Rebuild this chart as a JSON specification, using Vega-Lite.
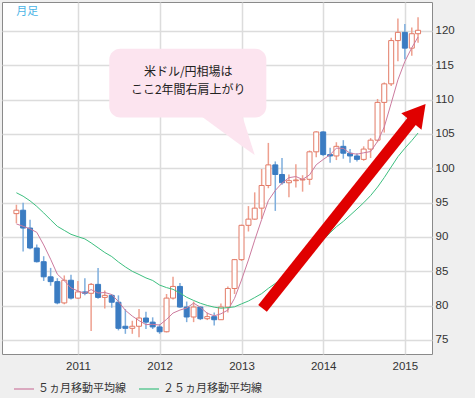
{
  "$schema": "https://vega.github.io/schema/vega-lite/v6.json",
  "width": 430,
  "height": 352,
  "autosize": {"type": "none"},
  "padding": {"left": 2, "top": 2, "right": 43, "bottom": 44},
  "background": "#efefef",
  "view": {"fill": "white", "stroke": "#8a8a8a", "strokeWidth": 1},
  "config": {
    "font": "Liberation Sans",
    "axisY": {"grid": true, "gridColor": "#dcdcdc", "gridWidth": 1.5, "domain": false, "ticks": false, "labelFontSize": 11.5, "labelColor": "#333333", "labelPadding": 3, "labelFont": "Liberation Sans", "labelAlign": "left"}
  },
  "datasets": {
    "candles": [
      {"x": "2010-04-01", "o": 93.4, "h": 94.7, "l": 92.0, "c": 93.9, "m5": 91.9, "m25": 96.44},
      {"x": "2010-05-01", "o": 93.9, "h": 95.0, "l": 87.9, "c": 91.3, "m5": 91.56, "m25": 95.94},
      {"x": "2010-06-01", "o": 91.3, "h": 92.5, "l": 88.2, "c": 88.4, "m5": 91.18, "m25": 95.26},
      {"x": "2010-07-01", "o": 88.4, "h": 88.9, "l": 86.3, "c": 86.4, "m5": 90.68, "m25": 94.46},
      {"x": "2010-08-01", "o": 86.4, "h": 87.2, "l": 83.6, "c": 84.2, "m5": 88.84, "m25": 93.51},
      {"x": "2010-09-01", "o": 84.2, "h": 85.5, "l": 82.9, "c": 83.5, "m5": 86.76, "m25": 92.5},
      {"x": "2010-10-01", "o": 83.5, "h": 84.0, "l": 80.2, "c": 80.4, "m5": 84.58, "m25": 91.55},
      {"x": "2010-11-01", "o": 80.4, "h": 84.4, "l": 80.2, "c": 83.7, "m5": 83.64, "m25": 90.96},
      {"x": "2010-12-01", "o": 83.7, "h": 84.5, "l": 80.9, "c": 81.1, "m5": 82.58, "m25": 90.39},
      {"x": "2011-01-01", "o": 81.1, "h": 83.6, "l": 81.0, "c": 82.0, "m5": 82.14, "m25": 90.04},
      {"x": "2011-02-01", "o": 82.0, "h": 84.0, "l": 81.5, "c": 81.8, "m5": 81.8, "m25": 89.72},
      {"x": "2011-03-01", "o": 81.8, "h": 83.3, "l": 76.3, "c": 83.1, "m5": 82.34, "m25": 89.14},
      {"x": "2011-04-01", "o": 83.1, "h": 85.5, "l": 81.0, "c": 81.2, "m5": 81.84, "m25": 88.43},
      {"x": "2011-05-01", "o": 81.2, "h": 82.2, "l": 79.6, "c": 81.5, "m5": 81.92, "m25": 87.74},
      {"x": "2011-06-01", "o": 81.5, "h": 81.7, "l": 79.7, "c": 80.5, "m5": 81.62, "m25": 87.15},
      {"x": "2011-07-01", "o": 80.5, "h": 81.5, "l": 76.4, "c": 76.7, "m5": 80.6, "m25": 86.36},
      {"x": "2011-08-01", "o": 77.0, "h": 79.5, "l": 75.9, "c": 76.7, "m5": 79.32, "m25": 85.64},
      {"x": "2011-09-01", "o": 76.7, "h": 77.8, "l": 75.9, "c": 77.0, "m5": 78.48, "m25": 85.0},
      {"x": "2011-10-01", "o": 77.0, "h": 79.5, "l": 75.4, "c": 78.2, "m5": 77.82, "m25": 84.54},
      {"x": "2011-11-01", "o": 78.2, "h": 79.1, "l": 76.6, "c": 77.6, "m5": 77.24, "m25": 84.04},
      {"x": "2011-12-01", "o": 77.6, "h": 78.3, "l": 76.6, "c": 76.9, "m5": 77.28, "m25": 83.67},
      {"x": "2012-01-01", "o": 76.9, "h": 77.3, "l": 75.9, "c": 76.2, "m5": 77.18, "m25": 83.0},
      {"x": "2012-02-01", "o": 76.2, "h": 81.7, "l": 76.1, "c": 81.1, "m5": 78.0, "m25": 82.63},
      {"x": "2012-03-01", "o": 81.1, "h": 84.2, "l": 80.9, "c": 82.8, "m5": 78.92, "m25": 82.38},
      {"x": "2012-04-01", "o": 82.8, "h": 83.3, "l": 79.7, "c": 79.8, "m5": 79.36, "m25": 81.84},
      {"x": "2012-05-01", "o": 79.8, "h": 80.6, "l": 77.6, "c": 78.35, "m5": 79.65, "m25": 81.22},
      {"x": "2012-06-01", "o": 78.35, "h": 80.6, "l": 77.6, "c": 79.8, "m5": 80.37, "m25": 80.76},
      {"x": "2012-07-01", "o": 79.8, "h": 79.9, "l": 77.9, "c": 78.1, "m5": 79.77, "m25": 80.35},
      {"x": "2012-08-01", "o": 78.1, "h": 79.0, "l": 77.9, "c": 78.4, "m5": 78.89, "m25": 80.03},
      {"x": "2012-09-01", "o": 78.4, "h": 79.0, "l": 77.1, "c": 77.95, "m5": 78.52, "m25": 79.78},
      {"x": "2012-10-01", "o": 77.95, "h": 80.3, "l": 77.9, "c": 79.8, "m5": 78.81, "m25": 79.63},
      {"x": "2012-11-01", "o": 79.8, "h": 82.8, "l": 79.0, "c": 82.5, "m5": 79.35, "m25": 79.71},
      {"x": "2012-12-01", "o": 82.5, "h": 86.8, "l": 81.7, "c": 86.7, "m5": 81.07, "m25": 79.83},
      {"x": "2013-01-01", "o": 86.7, "h": 91.8, "l": 86.5, "c": 91.7, "m5": 83.73, "m25": 80.26},
      {"x": "2013-02-01", "o": 91.7, "h": 94.5, "l": 90.8, "c": 92.6, "m5": 86.66, "m25": 80.68},
      {"x": "2013-03-01", "o": 92.6, "h": 96.5, "l": 92.5, "c": 94.2, "m5": 89.54, "m25": 81.18},
      {"x": "2013-04-01", "o": 94.2, "h": 99.9, "l": 92.6, "c": 97.5, "m5": 92.54, "m25": 81.75},
      {"x": "2013-05-01", "o": 97.5, "h": 103.7, "l": 97.1, "c": 100.5, "m5": 95.3, "m25": 82.52},
      {"x": "2013-06-01", "o": 100.5, "h": 101.0, "l": 93.8, "c": 99.1, "m5": 96.78, "m25": 83.23},
      {"x": "2013-07-01", "o": 99.1, "h": 101.5, "l": 97.6, "c": 97.9, "m5": 97.84, "m25": 83.92},
      {"x": "2013-08-01", "o": 97.9, "h": 99.1, "l": 95.8, "c": 98.2, "m5": 98.64, "m25": 84.78},
      {"x": "2013-09-01", "o": 98.2, "h": 100.6, "l": 97.2, "c": 98.3, "m5": 98.8, "m25": 85.65},
      {"x": "2013-10-01", "o": 98.3, "h": 99.0, "l": 96.6, "c": 98.4, "m5": 98.38, "m25": 86.5},
      {"x": "2013-11-01", "o": 98.4, "h": 102.6, "l": 97.6, "c": 102.4, "m5": 99.04, "m25": 87.47},
      {"x": "2013-12-01", "o": 102.4, "h": 105.4, "l": 101.6, "c": 105.3, "m5": 100.52, "m25": 88.58},
      {"x": "2014-01-01", "o": 105.3, "h": 105.4, "l": 101.8, "c": 102.0, "m5": 101.28, "m25": 89.58},
      {"x": "2014-02-01", "o": 102.0, "h": 103.0, "l": 100.8, "c": 101.8, "m5": 101.98, "m25": 90.61},
      {"x": "2014-03-01", "o": 101.8, "h": 103.8, "l": 101.2, "c": 103.2, "m5": 102.94, "m25": 91.49},
      {"x": "2014-04-01", "o": 103.2, "h": 104.1, "l": 101.4, "c": 102.2, "m5": 102.9, "m25": 92.27},
      {"x": "2014-05-01", "o": 102.2, "h": 102.8, "l": 100.8, "c": 101.8, "m5": 102.2, "m25": 93.15},
      {"x": "2014-06-01", "o": 101.8, "h": 102.2, "l": 101.0, "c": 101.3, "m5": 102.06, "m25": 94.07},
      {"x": "2014-07-01", "o": 101.3, "h": 103.2, "l": 101.1, "c": 102.8, "m5": 102.26, "m25": 94.99},
      {"x": "2014-08-01", "o": 102.8, "h": 104.4, "l": 101.5, "c": 104.1, "m5": 102.44, "m25": 96.03},
      {"x": "2014-09-01", "o": 104.1, "h": 110.1, "l": 103.8, "c": 109.6, "m5": 103.92, "m25": 97.27},
      {"x": "2014-10-01", "o": 109.6, "h": 112.5, "l": 105.2, "c": 112.3, "m5": 106.02, "m25": 98.65},
      {"x": "2014-11-01", "o": 112.3, "h": 119.0, "l": 112.0, "c": 118.6, "m5": 109.48, "m25": 100.2},
      {"x": "2014-12-01", "o": 118.6, "h": 121.8, "l": 115.6, "c": 119.8, "m5": 112.88, "m25": 101.69},
      {"x": "2015-01-01", "o": 119.8, "h": 121.0, "l": 115.9, "c": 117.5, "m5": 115.56, "m25": 102.92},
      {"x": "2015-02-01", "o": 117.5, "h": 120.5, "l": 116.4, "c": 119.6, "m5": 117.56, "m25": 104.04},
      {"x": "2015-03-01", "o": 119.6, "h": 122.0, "l": 118.3, "c": 120.1, "m5": 119.12, "m25": 105.14}
    ],
    "bubble": [{"x": "2011-05-21", "x2": "2013-04-22", "y": 117.4, "y2": 107.4}],
    "tail": [
      {"x": "2012-07-01", "y": 107.7, "y2": 107.7},
      {"x": "2013-01-04", "y": 107.7, "y2": 103.22},
      {"x": "2013-03-01", "y": 101.93, "y2": 101.93}
    ],
    "notes": [
      {"x": "2012-05-08", "y": 114.0, "t": "米ドル/円相場は"},
      {"x": "2012-05-08", "y": 111.4, "t": "ここ2年間右肩上がり"}
    ],
    "arrow": [{"x": "2013-04-05", "y": 79.6, "x2": "2015-02-12", "y2": 107.3}],
    "head": [{"x": "2015-03-03", "y": 108.1}],
    "tag": [{"x": "2010-05-20", "y": 122.7, "t": "月足"}]
  },
  "encoding": {
    "x": {
      "field": "x",
      "type": "temporal",
      "scale": {"type": "utc", "nice": false, "domain": [{"year": 2010, "month": 2, "date": 18, "utc": true}, {"year": 2015, "month": 4, "date": 10, "utc": true}]},
      "axis": {
        "title": null,
        "values": [{"year": 2011, "month": 1, "date": 1, "utc": true}, {"year": 2012, "month": 1, "date": 1, "utc": true}, {"year": 2013, "month": 1, "date": 1, "utc": true}, {"year": 2014, "month": 1, "date": 1, "utc": true}, {"year": 2015, "month": 1, "date": 1, "utc": true}],
        "format": "%Y",
        "grid": true,
        "gridColor": "#dcdcdc",
        "gridWidth": 1.5,
        "domain": false,
        "ticks": false,
        "labelFontSize": 11.5,
        "labelColor": "#333333",
        "labelPadding": 6,
        "labelFont": "Liberation Sans"
      }
    }
  },
  "layer": [
    {
      "data": {"name": "bubble"},
      "mark": {"type": "rect", "fill": "#fce4ef", "cornerRadius": 11},
      "encoding": {
        "x2": {"field": "x2"},
        "y": {"field": "y", "type": "quantitative", "title": null, "scale": {"domain": [72.96, 124.22], "nice": false, "zero": false}, "axis": {"orient": "right", "values": [75, 80, 85, 90, 95, 100, 105, 110, 115, 120]}},
        "y2": {"field": "y2"}
      }
    },
    {
      "data": {"name": "tail"},
      "mark": {"type": "area", "fill": "#fce4ef", "interpolate": "linear"},
      "encoding": {
        "y": {"field": "y", "type": "quantitative", "title": null, "axis": {"orient": "right", "values": [75, 80, 85, 90, 95, 100, 105, 110, 115, 120]}},
        "y2": {"field": "y2"}
      }
    },
    {
      "data": {"name": "notes"},
      "mark": {"type": "text", "font": "Noto Sans CJK JP", "fontSize": 12, "color": "#222222", "align": "center", "baseline": "middle"},
      "encoding": {
        "y": {"field": "y", "type": "quantitative", "title": null, "axis": {"orient": "right", "values": [75, 80, 85, 90, 95, 100, 105, 110, 115, 120]}},
        "text": {"field": "t"}
      }
    },
    {
      "data": {"name": "candles"},
      "mark": {"type": "rule", "strokeWidth": 1.5},
      "encoding": {
        "y": {"field": "l", "type": "quantitative", "title": null, "axis": {"orient": "right", "values": [75, 80, 85, 90, 95, 100, 105, 110, 115, 120]}},
        "y2": {"field": "h"},
        "color": {"condition": {"test": "datum.c >= datum.o", "value": "#eea08f"}, "value": "#7eaedd"}
      }
    },
    {
      "data": {"name": "candles"},
      "mark": {"type": "bar", "size": 5, "strokeWidth": 1},
      "encoding": {
        "y": {"field": "o", "type": "quantitative", "title": null, "axis": {"orient": "right", "values": [75, 80, 85, 90, 95, 100, 105, 110, 115, 120]}},
        "y2": {"field": "c"},
        "fill": {"condition": {"test": "datum.c >= datum.o", "value": "#ffffff"}, "value": "#3b7cc2"},
        "stroke": {"condition": {"test": "datum.c >= datum.o", "value": "#e27a66"}, "value": "#3b7cc2"}
      }
    },
    {
      "data": {"name": "candles"},
      "transform": [{"fold": ["m5", "m25"], "as": ["k", "v"]}],
      "mark": {"type": "line", "strokeWidth": 1},
      "encoding": {
        "y": {"field": "v", "type": "quantitative", "title": null, "axis": {"orient": "right", "values": [75, 80, 85, 90, 95, 100, 105, 110, 115, 120]}},
        "color": {
          "field": "k",
          "type": "nominal",
          "scale": {"domain": ["m5", "m25"], "range": ["#cc7a9e", "#3dbf7f"]},
          "legend": {
            "orient": "none",
            "legendX": 11,
            "legendY": 376,
            "direction": "horizontal",
            "title": null,
            "symbolType": "stroke",
            "symbolSize": 400,
            "symbolStrokeWidth": 1.2,
            "labelFont": "Noto Sans CJK JP",
            "labelFontSize": 11,
            "labelColor": "#333333",
            "columnPadding": 10,
            "labelOffset": 3,
            "labelExpr": "datum.label == 'm5' ? '５ヵ月移動平均線' : '２５ヵ月移動平均線'"
          }
        }
      }
    },
    {
      "data": {"name": "arrow"},
      "mark": {"type": "rule", "strokeWidth": 11, "color": "#e00000", "strokeCap": "butt"},
      "encoding": {
        "x2": {"field": "x2"},
        "y": {"field": "y", "type": "quantitative", "title": null, "axis": {"orient": "right", "values": [75, 80, 85, 90, 95, 100, 105, 110, 115, 120]}},
        "y2": {"field": "y2"}
      }
    },
    {
      "data": {"name": "head"},
      "mark": {"type": "point", "shape": "triangle-up", "size": 676, "angle": 39, "filled": true, "color": "#e00000", "opacity": 1},
      "encoding": {
        "y": {"field": "y", "type": "quantitative", "title": null, "axis": {"orient": "right", "values": [75, 80, 85, 90, 95, 100, 105, 110, 115, 120]}}
      }
    },
    {
      "data": {"name": "tag"},
      "mark": {"type": "text", "font": "Noto Sans CJK JP", "fontSize": 11, "color": "#4ab4e6", "align": "center", "baseline": "middle"},
      "encoding": {
        "y": {"field": "y", "type": "quantitative", "title": null, "axis": {"orient": "right", "values": [75, 80, 85, 90, 95, 100, 105, 110, 115, 120]}},
        "text": {"field": "t"}
      }
    }
  ]
}
